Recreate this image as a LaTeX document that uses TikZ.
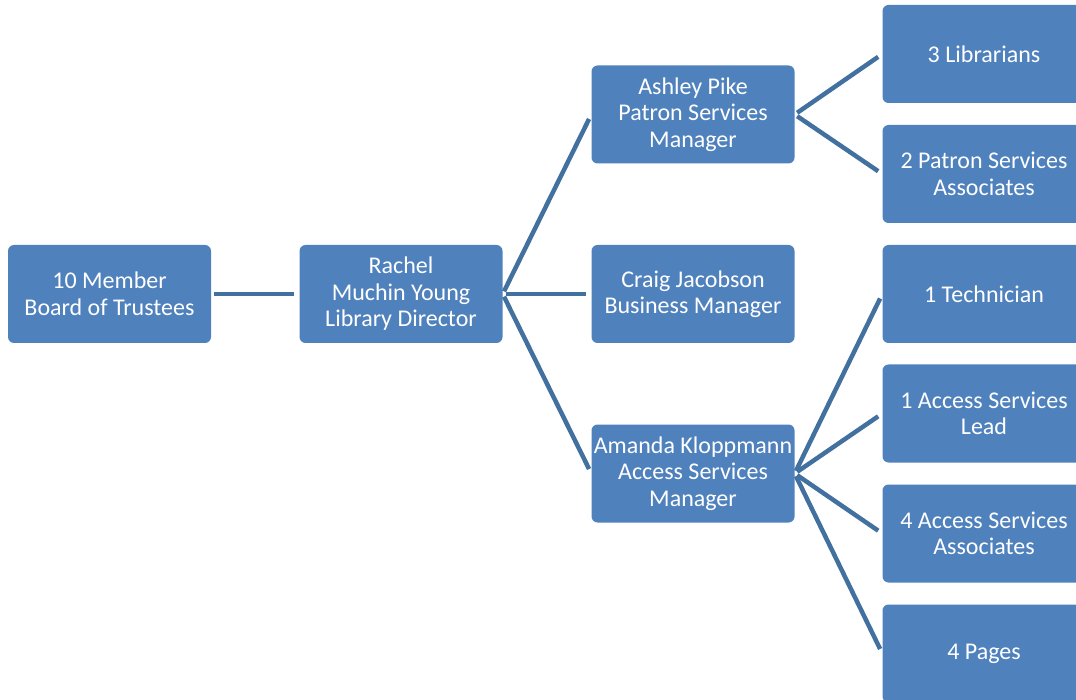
\documentclass[tikz,border=0pt]{standalone}
\usepackage{fontspec}
\setmainfont{Carlito}
\definecolor{boxfill}{RGB}{79,129,189}
\definecolor{linkc}{RGB}{66,113,160}
\begin{document}
\begin{tikzpicture}[x=1pt,y=-1pt,
  orgbox/.style={fill=boxfill, rounded corners=6pt, minimum width=203pt, minimum height=98pt,
    text=white, align=center, inner sep=0pt, font=\fontsize{24}{26.5}\selectfont},
  link/.style={draw=linkc, line width=4.5pt, shorten <=3pt, shorten >=5pt}]
\useasboundingbox (0,0) rectangle (1076,700);
\clip (0,0) rectangle (1076,700);
\node[orgbox] (board) at (109.5,294) {10 Member\\Board of Trustees};
\node[orgbox] (rachel) at (401,294) {Rachel\\Muchin Young\\Library Director};
\node[orgbox] (ashley) at (693,114.5) {Ashley Pike\\Patron Services\\Manager};
\node[orgbox] (craig) at (693,294) {Craig Jacobson\\Business Manager};
\node[orgbox] (amanda) at (693,473.5) {Amanda Kloppmann\\Access Services\\Manager};
\node[orgbox] (libr) at (984,54) {3 Librarians};
\node[orgbox] (patron) at (984,174) {2 Patron Services\\Associates};
\node[orgbox] (tech) at (984,294) {1 Technician};
\node[orgbox] (lead) at (984,413.5) {1 Access Services\\Lead};
\node[orgbox] (assoc) at (984,533.5) {4 Access Services\\Associates};
\node[orgbox] (pages) at (984,653.5) {4 Pages};
\draw[link] (board.east) -- (rachel.west);
\foreach \t in {ashley,craig,amanda} \draw[link] (rachel.east) -- (\t.west);
\foreach \t in {libr,patron} \draw[link] (ashley.east) -- (\t.west);
\foreach \t in {tech,lead,assoc,pages} \draw[link] (amanda.east) -- (\t.west);
\end{tikzpicture}
\end{document}
